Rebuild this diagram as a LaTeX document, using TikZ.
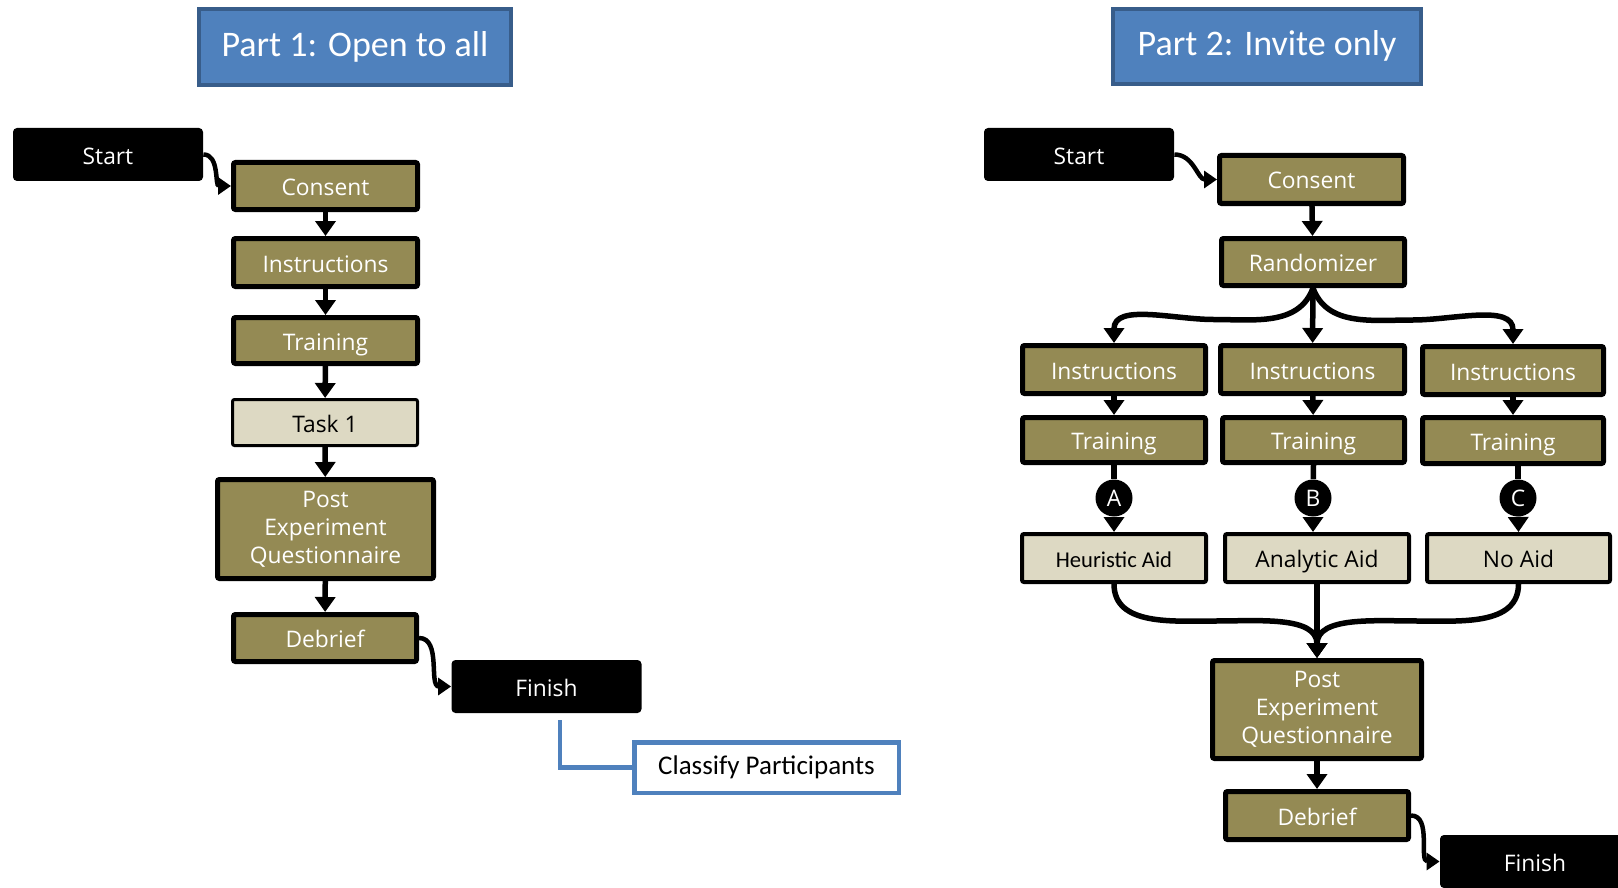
\documentclass[tikz,border=0pt]{standalone}
\usepackage{fontspec}
\setmainfont{Open Sans}
\newfontfamily\calib{Carlito}
\usetikzlibrary{arrows.meta,calc}
\definecolor{stepolive}{HTML}{948A54}
\definecolor{steptan}{HTML}{DDD9C3}
\definecolor{titleblue}{HTML}{4F81BD}
\definecolor{titleedge}{HTML}{385D8A}
\definecolor{notecol}{HTML}{4F81BD}
\tikzset{
  boxfont/.style={font=\fontsize{11.4}{13.9}\selectfont},
  oneline/.style={text height=9.5pt, text depth=0pt},
  stepbox/.style={draw=black, line width=2.5pt, fill=stepolive, text=white,
    boxfont, inner sep=0pt, rounded corners=1pt},
  aidbox/.style={draw=black, line width=2pt, fill=steptan, text=black,
    boxfont, inner sep=0pt, rounded corners=1pt, oneline},
  termbox/.style={fill=black, text=white, boxfont, inner sep=0pt,
    rounded corners=2pt, oneline, minimum width=95pt, minimum height=26.5pt},
  titlebox/.style={draw=titleedge, line width=2pt, fill=titleblue, text=white,
    font=\calib\fontsize{18}{22}\selectfont, inner sep=0pt,
    text height=12.5pt, text depth=3pt},
  notebox/.style={draw=notecol, line width=2.25pt, fill=white, text=black,
    font=\calib\fontsize{13.5}{16}\selectfont, inner sep=0pt,
    text height=9.5pt, text depth=3pt},
  badge/.style={circle, fill=black, text=white, minimum size=18.5pt,
    inner sep=0pt, font=\fontsize{11.4}{13}\selectfont},
  arr/.style={line width=2.75pt, -{Triangle[width=10pt,length=7.5pt]}},
  carr/.style={line width=2.25pt, -{Triangle[width=8.5pt,length=6.5pt]}},
  link/.style={line width=2.75pt},
  noteline/.style={draw=notecol, line width=2.25pt}
}
\begin{document}
\begin{tikzpicture}[x=0.5pt, y=-0.5pt]
\useasboundingbox (0,0) rectangle (1618,888);
\clip (0,0) rectangle (1618,888);

% ---------------- Part 1 ----------------
\node[titlebox, minimum width=156pt, minimum height=38pt] (t1) at (355,47) {Part 1: Open to all};

\node[termbox] (sL) at (108,154.5) {Start};
\node[stepbox, oneline, minimum width=92pt, minimum height=23.5pt] (cL) at (325.5,186) {Consent};
\node[stepbox, oneline, minimum width=92pt, minimum height=24pt] (iL) at (325.5,262.5) {Instructions};
\node[stepbox, oneline, minimum width=92pt, minimum height=23pt] (trL) at (325.5,340.5) {Training};
\node[aidbox, line width=1.5pt, minimum width=92.5pt, minimum height=23pt] (task) at (325,422.5) {Task 1};
\node[stepbox, align=center, minimum width=108pt, minimum height=49.5pt] (pL) at (325.5,529) {Post\\Experiment\\Questionnaire};
\node[stepbox, oneline, minimum width=91.5pt, minimum height=23.5pt] (dL) at (325,638) {Debrief};
\node[termbox] (fL) at (546.5,686.5) {Finish};
\node[notebox, minimum width=132.25pt, minimum height=25.25pt] (cls) at (766.5,767.5) {Classify Participants};
\coordinate (clsStart) at (560,720);

\draw[carr] (sL.east) to[out=0, in=180] (cL.west);
\draw[arr] (cL) -- (iL);
\draw[arr] (iL) -- (trL);
\draw[arr] (trL) -- (task);
\draw[arr] (task) -- (pL);
\draw[arr] (pL) -- (dL);
\draw[carr] (dL.east) to[out=0, in=180] (fL.west);
\draw[noteline] (clsStart) |- (cls.west);

% ---------------- Part 2 ----------------
\node[titlebox, minimum width=154pt, minimum height=37.5pt] (t2) at (1267,46.5) {Part 2: Invite only};

\node[termbox] (sR) at (1079,154.5) {Start};
\node[stepbox, oneline, minimum width=92pt, minimum height=24pt] (cR) at (1311.5,179.5) {Consent};
\node[stepbox, oneline, minimum width=91.5pt, minimum height=23.5pt] (rnd) at (1313,262) {Randomizer};

\node[stepbox, oneline, minimum width=91.5pt, minimum height=24pt] (iA) at (1114,369.5) {Instructions};
\node[stepbox, oneline, minimum width=92pt, minimum height=24pt] (iB) at (1312.5,369.5) {Instructions};
\node[stepbox, oneline, minimum width=90.5pt, minimum height=24pt] (iC) at (1513,370.5) {Instructions};

\node[stepbox, oneline, minimum width=91.5pt, minimum height=22.5pt] (tA) at (1114,440) {Training};
\node[stepbox, oneline, minimum width=91pt, minimum height=22.5pt] (tB) at (1313.5,440) {Training};
\node[stepbox, oneline, minimum width=90.5pt, minimum height=23pt] (tC) at (1513,440.5) {Training};

\node[badge] (bA) at (1114,498) {A};
\node[badge] (bB) at (1313,498) {B};
\node[badge] (bC) at (1518,498) {C};

\node[aidbox, minimum width=92pt, minimum height=24pt, font=\calib\fontsize{11.3}{13}\selectfont] (hA) at (1114,558) {Heuristic Aid};
\node[aidbox, minimum width=92pt, minimum height=24pt] (aA) at (1317,558) {Analytic Aid};
\node[aidbox, minimum width=91.5pt, minimum height=24pt] (nA) at (1518.5,558) {No Aid};

\node[stepbox, align=center, minimum width=104.5pt, minimum height=49pt] (pR) at (1317,709.5) {Post\\Experiment\\Questionnaire};
\node[stepbox, oneline, minimum width=91.5pt, minimum height=24pt] (dR) at (1317,815.5) {Debrief};
\node[termbox] (fR) at (1535,861.5) {Finish};

\draw[carr] (sR.east) to[out=0, in=180] (cR.west);
\draw[arr] (cR) -- (rnd);

% three-way split after the randomizer
\draw[arr] (rnd.south) to[out=-110, in=0] ($(rnd.south)!0.5!(iA.north)+(0,4)$) to[out=180, in=90] (iA.north);
\draw[arr] (rnd) -- (iB);
\draw[arr] (rnd.south) to[out=-70, in=180] ($(rnd.south)!0.5!(iC.north)+(0,4)$) to[out=0, in=90] (iC.north);

\draw[arr] (iA) -- (tA);
\draw[arr] (iB) -- (tB);
\draw[arr] (iC) -- (tC);

\draw[link] (tA.south) -- (bA);
\draw[link] (tB.south) -- (bB);
\draw[link] (tC.south -| bC) -- (bC);
\draw[arr] (bA) -- (hA.north);
\draw[arr] (bB) -- (bB |- aA.north);
\draw[arr] (bC) -- (nA.north);

% merge into the questionnaire
\draw[arr] (hA.south) to[out=-90, in=180] ($(hA.south)!0.5!(pR.north)$) to[out=0, in=90] (pR.north);
\draw[arr] (aA) -- (pR);
\draw[arr] (nA.south) to[out=-90, in=0] ($(nA.south)!0.5!(pR.north)$) to[out=180, in=90] (pR.north);

\draw[arr] (pR) -- (dR);
\draw[carr] (dR.east) to[out=0, in=180] (fR.west);
\end{tikzpicture}
\end{document}
